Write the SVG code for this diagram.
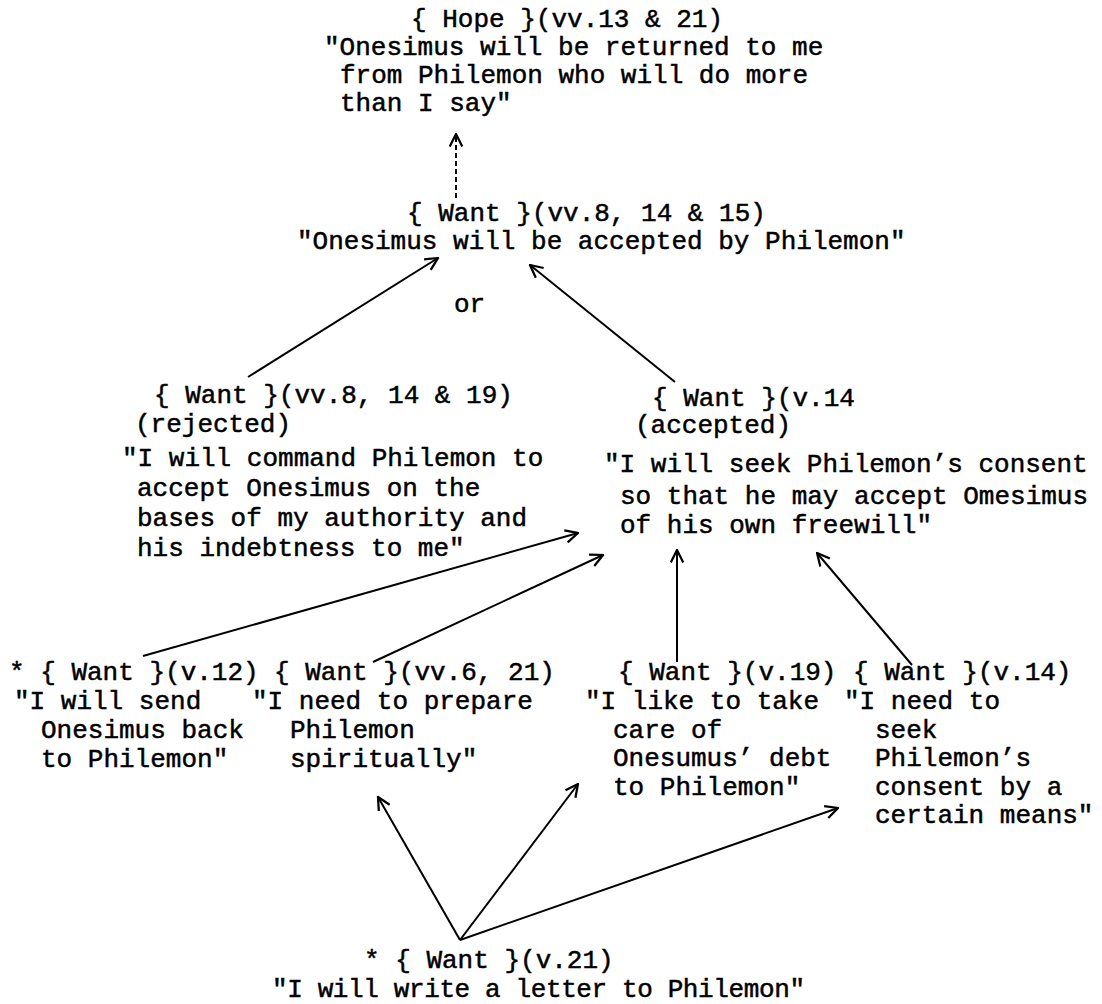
<svg xmlns="http://www.w3.org/2000/svg" width="1102" height="1004" viewBox="0 0 1102 1004">
<style>
text{font-family:"Liberation Mono","DejaVu Sans Mono",monospace;font-size:26px;fill:#000;stroke:#000;stroke-width:0.5;white-space:pre}
.c{stroke:#000;stroke-width:2;fill:none}
.d{stroke-dasharray:5 3}
</style>
<defs>
<marker id="ah" viewBox="0 0 12 12" refX="11" refY="6" markerWidth="15" markerHeight="15" markerUnits="userSpaceOnUse" orient="auto">
<path d="M1,1 L11,6 L1,11" fill="none" stroke="#000" stroke-width="1.8"/>
</marker>
</defs>
<rect width="1102" height="1004" fill="#fff"/>
<g id="connectors">
<line class="c d" x1="456" y1="198" x2="456" y2="134" marker-end="url(#ah)"/>
<line class="c" x1="248" y1="377" x2="438" y2="258" marker-end="url(#ah)"/>
<line class="c" x1="675" y1="382" x2="530" y2="265" marker-end="url(#ah)"/>
<line class="c" x1="143" y1="656" x2="578" y2="533" marker-end="url(#ah)"/>
<line class="c" x1="373" y1="662" x2="603" y2="555" marker-end="url(#ah)"/>
<line class="c" x1="677" y1="662" x2="677" y2="550" marker-end="url(#ah)"/>
<line class="c" x1="912" y1="665" x2="817" y2="553" marker-end="url(#ah)"/>
<line class="c" x1="460" y1="940" x2="378" y2="797" marker-end="url(#ah)"/>
<line class="c" x1="460" y1="940" x2="578" y2="784" marker-end="url(#ah)"/>
<line class="c" x1="460" y1="940" x2="838" y2="808" marker-end="url(#ah)"/>
</g>
<g id="hope">
<text x="411" y="27">{ Hope }(vv.13 &amp; 21)</text>
<text x="324" y="55">"Onesimus will be returned to me</text>
<text x="340" y="83">from Philemon who will do more</text>
<text x="340" y="111">than I say"</text>
</g>
<g id="want-accepted-by-philemon">
<text x="407" y="221">{ Want }(vv.8, 14 &amp; 15)</text>
<text x="297" y="249">"Onesimus will be accepted by Philemon"</text>
</g>
<g id="or-label">
<text x="454" y="312">or</text>
</g>
<g id="want-command">
<text x="154" y="403">{ Want }(vv.8, 14 &amp; 19)</text>
<text x="135" y="432">(rejected)</text>
<text x="122" y="466">"I will command Philemon to</text>
<text x="137" y="496">accept Onesimus on the</text>
<text x="137" y="526">bases of my authority and</text>
<text x="137" y="556">his indebtness to me"</text>
</g>
<g id="want-consent">
<text x="652" y="406">{ Want }(v.14</text>
<text x="635" y="433">(accepted)</text>
<text x="604" y="472">"I will seek Philemon’s consent</text>
<text x="620" y="504">so that he may accept Omesimus</text>
<text x="620" y="533">of his own freewill"</text>
</g>
<g id="want-send-back">
<text x="9" y="680">* { Want }(v.12)</text>
<text x="14" y="709">"I will send</text>
<text x="41" y="738">Onesimus back</text>
<text x="41" y="767">to Philemon"</text>
</g>
<g id="want-prepare">
<text x="274" y="680">{ Want }(vv.6, 21)</text>
<text x="252" y="709">"I need to prepare</text>
<text x="290" y="738">Philemon</text>
<text x="290" y="767">spiritually"</text>
</g>
<g id="want-debt">
<text x="618" y="680">{ Want }(v.19)</text>
<text x="585" y="709">"I like to take</text>
<text x="613" y="738">care of</text>
<text x="613" y="766">Onesumus’ debt</text>
<text x="613" y="795">to Philemon"</text>
</g>
<g id="want-seek-consent">
<text x="853" y="680">{ Want }(v.14)</text>
<text x="844" y="709">"I need to</text>
<text x="875" y="738">seek</text>
<text x="875" y="766">Philemon’s</text>
<text x="875" y="795">consent by a</text>
<text x="875" y="823">certain means"</text>
</g>
<g id="want-letter">
<text x="364" y="968">* { Want }(v.21)</text>
<text x="272" y="997" textLength="533" lengthAdjust="spacing">"I will write a letter to Philemon"</text>
</g>
</svg>
